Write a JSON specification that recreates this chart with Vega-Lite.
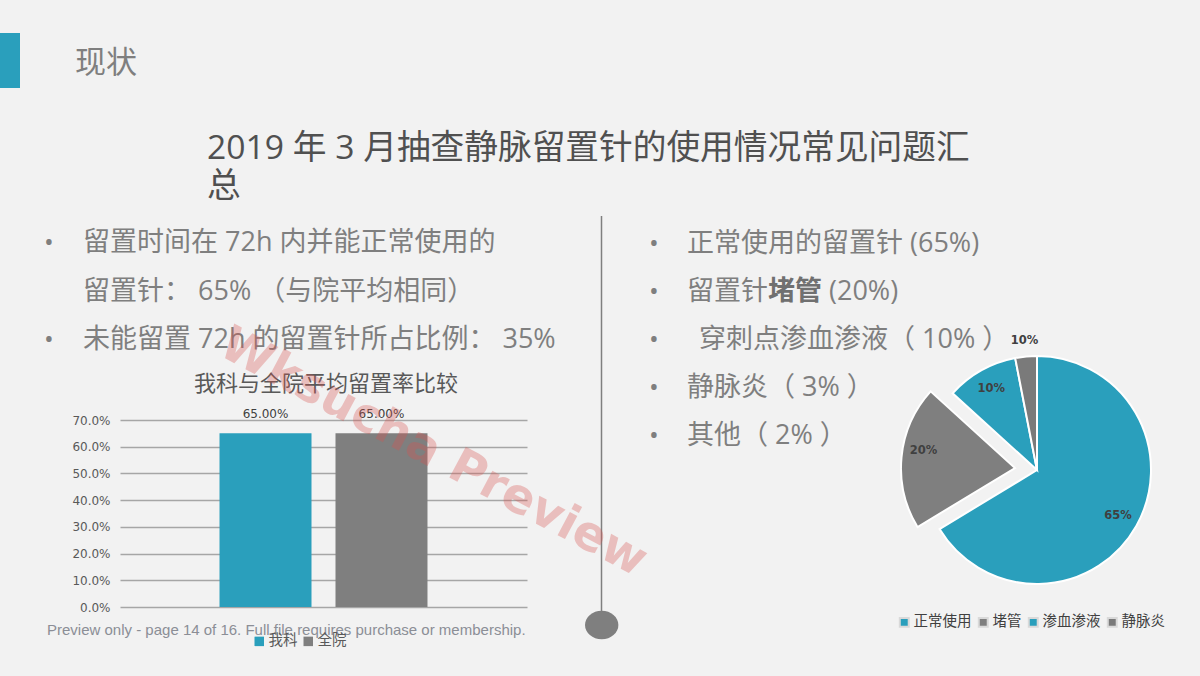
{
  "$schema": "https://vega.github.io/schema/vega-lite/v6.json",
  "width": 1200,
  "height": 676,
  "padding": 0,
  "autosize": {"type": "none"},
  "background": "#f2f2f2",
  "config": {"view": {"stroke": null}, "font": "'Open Sans', 'Noto Sans CJK SC', sans-serif"},
  "datasets": {
    "bars": [{"s": "我科", "v": 0.65}, {"s": "全院", "v": 0.65}],
    "pie": [
      {"k": "正常使用", "v": 65, "o": 1, "lab": "65%"},
      {"k": "堵管", "v": 20, "o": 2, "lab": "20%"},
      {"k": "渗血渗液", "v": 10, "o": 3, "lab": "10%"},
      {"k": "静脉炎", "v": 3, "o": 4, "lab": "10%"}
    ],
    "blank": [{}]
  },
  "resolve": {"scale": {"x": "independent", "y": "independent", "color": "independent"}},
  "layer": [
    {
      "data": {"name": "bars"},
      "encoding": {
        "x": {"field": "s", "type": "nominal", "sort": null, "axis": null,
              "scale": {"range": [120, 527], "paddingInner": 0.207, "paddingOuter": 0.858}},
        "y": {"field": "v", "type": "quantitative",
              "scale": {"domain": [0, 0.7], "range": [607, 420], "nice": false},
              "axis": {"orient": "left", "offset": -120, "values": [0, 0.1, 0.2, 0.3, 0.4, 0.5, 0.6, 0.7], "format": ".1%",
                       "grid": true, "gridColor": "#a6a6a6", "gridWidth": 1.5, "domain": false, "ticks": false,
                       "labelFont": "DejaVu Sans", "labelFontSize": 12, "labelColor": "#595959", "labelPadding": 10, "title": null}}
      },
      "layer": [
        {
          "mark": {"type": "bar"},
          "encoding": {
            "color": {"field": "s", "type": "nominal", "sort": null,
                      "scale": {"domain": ["我科", "全院"], "range": ["#2a9fbc", "#7f7f7f"]},
                      "legend": {"orient": "none", "legendX": 252, "legendY": 634, "direction": "horizontal", "title": null,
                                 "symbolType": "square", "symbolSize": 90, "symbolStrokeWidth": 0,
                                 "labelFontSize": 14.5, "labelColor": "#595959", "labelOffset": 2, "columnPadding": 3}}
          }
        },
        {
          "mark": {"type": "text", "dy": -19, "font": "DejaVu Sans", "fontSize": 12, "fill": "#404040"},
          "encoding": {"text": {"field": "v", "type": "quantitative", "format": ".2%"}}
        }
      ]
    },
    {
      "data": {"name": "blank"},
      "layer": [
        {
          "mark": {"type": "rect", "fill": "#2a9fbc"},
          "encoding": {
            "x": {"datum": 0, "type": "quantitative", "scale": {"domain": [0, 1200], "range": [0, 1200]}, "axis": null},
            "x2": {"datum": 20},
            "y": {"datum": 33, "type": "quantitative", "scale": {"domain": [0, 676], "range": [0, 676]}, "axis": null},
            "y2": {"datum": 88}
          }
        },
        {
          "mark": {"type": "text", "text": "现状", "align": "left", "baseline": "middle", "fontSize": 31, "fill": "#7f7f7f"},
          "encoding": {
            "x": {"datum": 75, "type": "quantitative", "scale": {"domain": [0, 1200], "range": [0, 1200]}, "axis": null},
            "y": {"datum": 64, "type": "quantitative", "scale": {"domain": [0, 676], "range": [0, 676]}, "axis": null}
          }
        },
        {
          "mark": {"type": "text", "text": ["2019 年 3 月抽查静脉留置针的使用情况常见问题汇", "总"], "align": "left", "baseline": "middle", "fontSize": 33.7, "lineHeight": 38, "fill": "#505050"},
          "encoding": {
            "x": {"datum": 207, "type": "quantitative", "scale": {"domain": [0, 1200], "range": [0, 1200]}, "axis": null},
            "y": {"datum": 149, "type": "quantitative", "scale": {"domain": [0, 676], "range": [0, 676]}, "axis": null}
          }
        },
        {
          "mark": {"type": "text", "text": "•", "align": "center", "baseline": "middle", "fontSize": 26, "fill": "#7f7f7f"},
          "encoding": {
            "x": {"datum": 49, "type": "quantitative", "scale": {"domain": [0, 1200], "range": [0, 1200]}, "axis": null},
            "y": {"datum": 243, "type": "quantitative", "scale": {"domain": [0, 676], "range": [0, 676]}, "axis": null}
          }
        },
        {
          "mark": {"type": "text", "text": "•", "align": "center", "baseline": "middle", "fontSize": 26, "fill": "#7f7f7f"},
          "encoding": {
            "x": {"datum": 49, "type": "quantitative", "scale": {"domain": [0, 1200], "range": [0, 1200]}, "axis": null},
            "y": {"datum": 340, "type": "quantitative", "scale": {"domain": [0, 676], "range": [0, 676]}, "axis": null}
          }
        },
        {
          "mark": {"type": "text", "text": ["留置时间在 72h 内并能正常使用的", "留置针： 65% （与院平均相同）", "未能留置 72h 的留置针所占比例： 35%"], "align": "left", "baseline": "middle", "fontSize": 27, "lineHeight": 48.5, "fill": "#7f7f7f"},
          "encoding": {
            "x": {"datum": 83, "type": "quantitative", "scale": {"domain": [0, 1200], "range": [0, 1200]}, "axis": null},
            "y": {"datum": 243, "type": "quantitative", "scale": {"domain": [0, 676], "range": [0, 676]}, "axis": null}
          }
        },
        {
          "mark": {"type": "text", "text": ["•", "•", "•", "•", "•"], "align": "center", "baseline": "middle", "fontSize": 26, "lineHeight": 48, "fill": "#7f7f7f"},
          "encoding": {
            "x": {"datum": 654, "type": "quantitative", "scale": {"domain": [0, 1200], "range": [0, 1200]}, "axis": null},
            "y": {"datum": 244, "type": "quantitative", "scale": {"domain": [0, 676], "range": [0, 676]}, "axis": null}
          }
        },
        {
          "mark": {"type": "text", "text": ["正常使用的留置针 (65%)", "留置针　　 (20%)"], "align": "left", "baseline": "middle", "fontSize": 27, "lineHeight": 48, "fill": "#7f7f7f"},
          "encoding": {
            "x": {"datum": 687, "type": "quantitative", "scale": {"domain": [0, 1200], "range": [0, 1200]}, "axis": null},
            "y": {"datum": 244, "type": "quantitative", "scale": {"domain": [0, 676], "range": [0, 676]}, "axis": null}
          }
        },
        {
          "mark": {"type": "text", "text": "穿刺点渗血渗液（ 10% ）", "align": "left", "baseline": "middle", "fontSize": 27, "fill": "#7f7f7f"},
          "encoding": {
            "x": {"datum": 699, "type": "quantitative", "scale": {"domain": [0, 1200], "range": [0, 1200]}, "axis": null},
            "y": {"datum": 340, "type": "quantitative", "scale": {"domain": [0, 676], "range": [0, 676]}, "axis": null}
          }
        },
        {
          "mark": {"type": "text", "text": ["静脉炎（ 3% ）", "其他（ 2% ）"], "align": "left", "baseline": "middle", "fontSize": 27, "lineHeight": 48, "fill": "#7f7f7f"},
          "encoding": {
            "x": {"datum": 687, "type": "quantitative", "scale": {"domain": [0, 1200], "range": [0, 1200]}, "axis": null},
            "y": {"datum": 388, "type": "quantitative", "scale": {"domain": [0, 676], "range": [0, 676]}, "axis": null}
          }
        },
        {
          "mark": {"type": "text", "text": "堵管", "align": "left", "baseline": "middle", "fontSize": 27, "fontWeight": "bold", "fill": "#707070"},
          "encoding": {
            "x": {"datum": 768, "type": "quantitative", "scale": {"domain": [0, 1200], "range": [0, 1200]}, "axis": null},
            "y": {"datum": 292, "type": "quantitative", "scale": {"domain": [0, 676], "range": [0, 676]}, "axis": null}
          }
        },
        {
          "mark": {"type": "text", "text": "我科与全院平均留置率比较", "align": "center", "baseline": "middle", "fontSize": 22, "fill": "#595959"},
          "encoding": {
            "x": {"datum": 326, "type": "quantitative", "scale": {"domain": [0, 1200], "range": [0, 1200]}, "axis": null},
            "y": {"datum": 384, "type": "quantitative", "scale": {"domain": [0, 676], "range": [0, 676]}, "axis": null}
          }
        },
        {
          "mark": {"type": "rule", "color": "#7f7f7f", "strokeWidth": 1.5},
          "encoding": {
            "x": {"datum": 601.5, "type": "quantitative", "scale": {"domain": [0, 1200], "range": [0, 1200]}, "axis": null},
            "y": {"datum": 216, "type": "quantitative", "scale": {"domain": [0, 676], "range": [0, 676]}, "axis": null},
            "y2": {"datum": 612}
          }
        },
        {
          "mark": {"type": "point", "shape": "M-1,0A1,0.857,0,1,0,1,0A1,0.857,0,1,0,-1,0Z", "size": 1115, "filled": true, "color": "#7f7f7f", "opacity": 1, "strokeWidth": 0},
          "encoding": {
            "x": {"datum": 601.7, "type": "quantitative", "scale": {"domain": [0, 1200], "range": [0, 1200]}, "axis": null},
            "y": {"datum": 625, "type": "quantitative", "scale": {"domain": [0, 676], "range": [0, 676]}, "axis": null}
          }
        },
        {
          "mark": {"type": "text", "text": "Preview only - page 14 of 16. Full file requires purchase or membership.", "align": "left", "baseline": "middle", "font": "'Liberation Sans', Arial, sans-serif", "fontSize": 15, "fill": "#8b8e96"},
          "encoding": {
            "x": {"datum": 47, "type": "quantitative", "scale": {"domain": [0, 1200], "range": [0, 1200]}, "axis": null},
            "y": {"datum": 630, "type": "quantitative", "scale": {"domain": [0, 676], "range": [0, 676]}, "axis": null}
          }
        },
        {
          "data": {"name": "pie"},
          "mark": {"type": "arc", "radius": 114, "stroke": "#ffffff", "strokeWidth": 2},
          "encoding": {
            "x": {"datum": 1037, "type": "quantitative", "scale": {"domain": [0, 1200], "range": [0, 1200]}, "axis": null},
            "y": {"datum": 470, "type": "quantitative", "scale": {"domain": [0, 676], "range": [0, 676]}, "axis": null},
            "theta": {"field": "v", "type": "quantitative", "stack": true},
            "order": {"field": "o", "type": "quantitative"},
            "color": {"field": "k", "type": "nominal", "sort": null,
                      "scale": {"domain": ["正常使用", "堵管", "渗血渗液", "静脉炎"], "range": ["#2a9fbc", "#7f7f7f", "#2a9fbc", "#7a7a7a"]},
                      "legend": {"orient": "none", "legendX": 897, "legendY": 615, "direction": "horizontal", "title": null,
                                 "symbolType": "square", "symbolSize": 80, "symbolStrokeColor": "#d9d9d9", "symbolStrokeWidth": 2,
                                 "labelFontSize": 14.5, "labelColor": "#404040", "labelOffset": 2, "columnPadding": 2}},
            "opacity": {"condition": {"test": "datum.k === '堵管'", "value": 0}, "value": 1}
          }
        },
        {
          "data": {"name": "pie"},
          "mark": {"type": "arc", "radius": 114, "stroke": "#ffffff", "strokeWidth": 2},
          "encoding": {
            "x": {"datum": 1015, "type": "quantitative", "scale": {"domain": [0, 1200], "range": [0, 1200]}, "axis": null},
            "y": {"datum": 468, "type": "quantitative", "scale": {"domain": [0, 676], "range": [0, 676]}, "axis": null},
            "theta": {"field": "v", "type": "quantitative", "stack": true},
            "order": {"field": "o", "type": "quantitative"},
            "color": {"field": "k", "type": "nominal", "sort": null,
                      "scale": {"domain": ["正常使用", "堵管", "渗血渗液", "静脉炎"], "range": ["#2a9fbc", "#7f7f7f", "#2a9fbc", "#7a7a7a"]},
                      "legend": {"orient": "none", "legendX": 897, "legendY": 615, "direction": "horizontal", "title": null,
                                 "symbolType": "square", "symbolSize": 80, "symbolStrokeColor": "#d9d9d9", "symbolStrokeWidth": 2,
                                 "labelFontSize": 14.5, "labelColor": "#404040", "labelOffset": 2, "columnPadding": 2}},
            "opacity": {"condition": {"test": "datum.k === '堵管'", "value": 1}, "value": 0}
          }
        },
        {
          "data": {"name": "pie"},
          "mark": {"type": "text", "radius": 93, "font": "DejaVu Sans", "fontSize": 11.5, "fontWeight": "bold", "fill": "#404040"},
          "encoding": {
            "x": {"datum": 1037, "type": "quantitative", "scale": {"domain": [0, 1200], "range": [0, 1200]}, "axis": null},
            "y": {"datum": 470, "type": "quantitative", "scale": {"domain": [0, 676], "range": [0, 676]}, "axis": null},
            "theta": {"field": "v", "type": "quantitative", "stack": true},
            "order": {"field": "o", "type": "quantitative"},
            "text": {"field": "lab", "type": "nominal"},
            "opacity": {"condition": {"test": "datum.k === '正常使用' || datum.k === '渗血渗液'", "value": 1}, "value": 0}
          }
        },
        {
          "data": {"name": "pie"},
          "mark": {"type": "text", "radius": 92, "dy": -8, "font": "DejaVu Sans", "fontSize": 11.5, "fontWeight": "bold", "fill": "#404040"},
          "encoding": {
            "x": {"datum": 1015, "type": "quantitative", "scale": {"domain": [0, 1200], "range": [0, 1200]}, "axis": null},
            "y": {"datum": 468, "type": "quantitative", "scale": {"domain": [0, 676], "range": [0, 676]}, "axis": null},
            "theta": {"field": "v", "type": "quantitative", "stack": true},
            "order": {"field": "o", "type": "quantitative"},
            "text": {"field": "lab", "type": "nominal"},
            "opacity": {"condition": {"test": "datum.k === '堵管'", "value": 1}, "value": 0}
          }
        },
        {
          "data": {"name": "pie"},
          "mark": {"type": "text", "radius": 130, "font": "DejaVu Sans", "fontSize": 11.5, "fontWeight": "bold", "fill": "#404040"},
          "encoding": {
            "x": {"datum": 1037, "type": "quantitative", "scale": {"domain": [0, 1200], "range": [0, 1200]}, "axis": null},
            "y": {"datum": 470, "type": "quantitative", "scale": {"domain": [0, 676], "range": [0, 676]}, "axis": null},
            "theta": {"field": "v", "type": "quantitative", "stack": true},
            "order": {"field": "o", "type": "quantitative"},
            "text": {"field": "lab", "type": "nominal"},
            "opacity": {"condition": {"test": "datum.k === '静脉炎'", "value": 1}, "value": 0}
          }
        },
        {
          "mark": {"type": "text", "text": "Wksucha Preview", "align": "center", "baseline": "middle", "angle": 28, "font": "'DejaVu Sans', sans-serif", "fontWeight": "bold", "fontSize": 48, "fill": "#d9534f", "opacity": 0.32},
          "encoding": {
            "x": {"datum": 433, "type": "quantitative", "scale": {"domain": [0, 1200], "range": [0, 1200]}, "axis": null},
            "y": {"datum": 453, "type": "quantitative", "scale": {"domain": [0, 676], "range": [0, 676]}, "axis": null}
          }
        }
      ]
    }
  ]
}
